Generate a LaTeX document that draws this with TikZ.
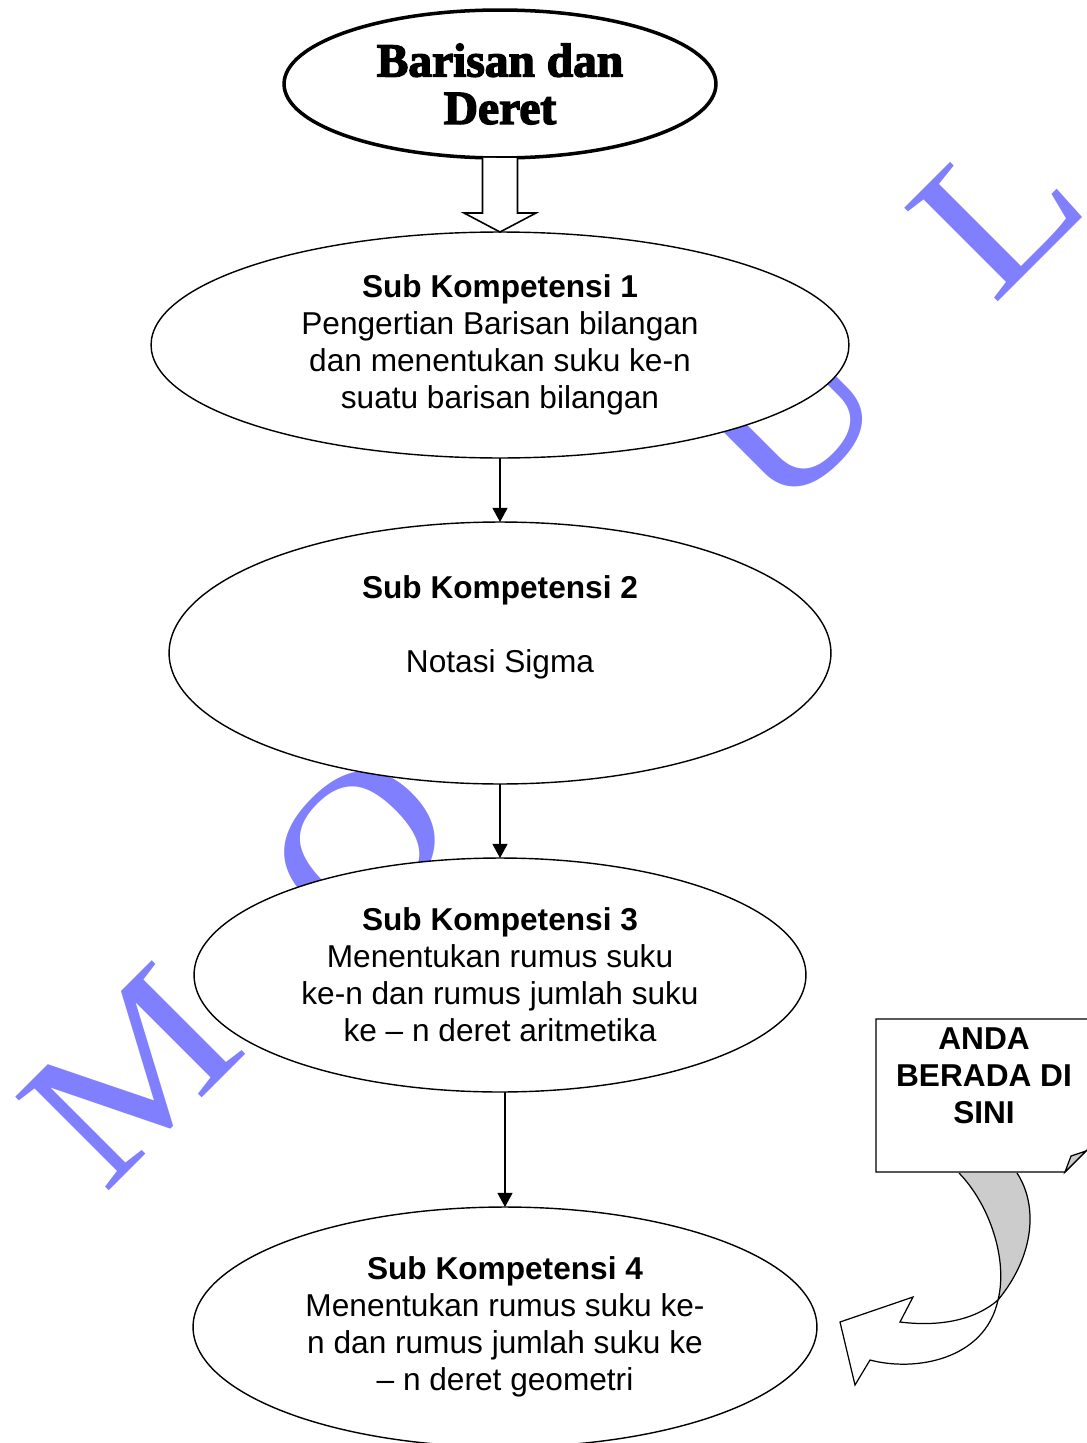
\documentclass[tikz,border=0pt]{standalone}
\usepackage{fontspec}
\setmainfont{Liberation Sans}
\newfontfamily\judulfont{Liberation Serif Bold}[FakeBold=3]
\newfontfamily\tandafont{Liberation Serif}[FakeStretch=1.15]
\usetikzlibrary{shapes.geometric,arrows.meta}
\definecolor{tanda}{RGB}{128,128,255}
\definecolor{lipatan}{RGB}{204,204,204}

\begin{document}
\begin{tikzpicture}[
  x=0.02cm, y=-0.02cm,
  komp/.style={ellipse, draw, fill=white, line width=0.8pt, inner sep=0pt, outer sep=0pt, align=center, font=\fontsize{18pt}{21pt}\selectfont},
  judul/.style={komp, line width=2pt, font=\judulfont\fontsize{27pt}{27pt}\selectfont},
  panah/.style={-{Triangle[length=8pt,width=8.5pt]}, line width=0.7pt},
  balok/.style={draw, fill=white, line width=0.9pt, line join=miter},
  pita/.style={draw, line width=0.7pt, line join=miter}
]
\useasboundingbox (0,0) rectangle (1086,1443);

% tanda air
\node[font=\tandafont\fontsize{115pt}{115pt}\selectfont, text=tanda, rotate=45, anchor=base west, inner sep=0pt] (modul) at (104,1196) {M\hspace{78pt}O\hspace{78pt}D\hspace{78pt}U\hspace{78pt}L};

% panah lengkung ke sub kompetensi 4
\draw[pita, fill=lipatan] (959,1173) .. controls (990,1205) and (1008,1260) .. (998,1300)
  .. controls (1035,1255) and (1038,1205) .. (1017,1173);
\draw[pita, fill=white] (998,1300) .. controls (975,1320) and (940,1327) .. (900,1322)
  -- (913,1297) -- (840,1322) -- (855,1385) -- (870,1360)
  .. controls (915,1372) and (985,1360) .. (998,1300) -- cycle;

% kotak keterangan
\draw[pita, fill=white] (876,1019) -- (1092,1019) -- (1092,1145) -- (1065,1172) -- (876,1172) -- cycle;
\draw[pita, fill=lipatan] (1065,1172) -- (1071,1156) -- (1086,1151) -- cycle;
\node[anchor=north, align=center, inner sep=5pt, font=\bfseries\fontsize{18pt}{21pt}\selectfont] (disini) at (984,1019) {ANDA\\BERADA DI\\SINI};

% elips
\node[judul, minimum width=8.64cm, minimum height=2.96cm] (judul) at (500,84) {Barisan dan\\Deret};
\node[komp, minimum width=13.96cm, minimum height=4.52cm] (sk1) at (500,345)
  {\textbf{Sub Kompetensi 1}\\Pengertian Barisan bilangan\\dan menentukan suku ke-n\\suatu barisan bilangan};
\node[komp, minimum width=13.24cm, minimum height=5.24cm] (sk2) at (500,653)
  {\textbf{Sub Kompetensi 2}\\[21pt]Notasi Sigma\\[12pt]\mbox{}};
\node[komp, minimum width=12.24cm, minimum height=4.68cm] (sk3) at (500,975)
  {\textbf{Sub Kompetensi 3}\\Menentukan rumus suku\\ke-n dan rumus jumlah suku\\ke – n deret aritmetika};
\node[komp, minimum width=12.48cm, minimum height=4.80cm] (sk4) at (505,1327)
  {\textbf{Sub Kompetensi 4}\\Menentukan rumus suku ke-\\n dan rumus jumlah suku ke\\– n deret geometri};

% panah
\draw[balok] (judul.south) ++(-17.5,0) -- ++(0,55) -- ++(-18.5,0) -- (sk1.north)
  -- ++(36,-19) -- ++(-18.5,0) -- ++(0,-55);
\draw[panah] (sk1) -- (sk2);
\draw[panah] (sk2) -- (sk3);
\draw[panah] (sk3.south -| sk4.north) -- (sk4.north);
\end{tikzpicture}
\end{document}
